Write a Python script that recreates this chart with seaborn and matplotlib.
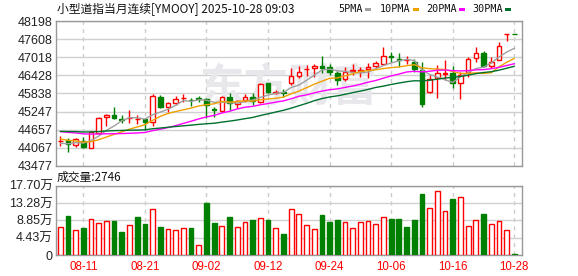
import numpy as np
import pandas as pd
import matplotlib
matplotlib.use("Agg")
import matplotlib.pyplot as plt
import seaborn as sns
from matplotlib.patches import Rectangle

# ---------------- data ----------------
open_ = [44285, 44317, 44153, 44295, 44066, 44535, 45058, 45134, 45003, 45025,
         44992, 45003, 44916, 45734, 45407, 45538, 45679, 45636, 45690, 45647,
         45330, 45265, 45723, 45483, 45614, 45712, 45549, 46170, 45865, 45876,
         46170, 46421, 46628, 46661, 46737, 46704, 46508, 46301, 46573, 46573,
         46639, 46748, 46813, 47053, 46966, 46922, 46879, 46606, 45876, 46334,
         46486, 46519, 46170, 46552, 46988, 47151, 46748, 46933, 47773, 47780]
close = [44300, 44175, 44349, 44098, 44567, 45025, 45134, 45047, 44981, 45047,
         45014, 44916, 45756, 45407, 45516, 45658, 45701, 45614, 45668, 45461,
         45309, 45712, 45516, 45592, 45712, 45592, 46149, 45876, 45887, 45854,
         46399, 46552, 46650, 46737, 46683, 46552, 46279, 46530, 46595, 46595,
         46693, 46824, 47053, 47020, 46922, 46944, 46639, 45494, 46301, 46497,
         46508, 46192, 46443, 46966, 47151, 46737, 46879, 47402, 47784, 47773]
high = [44458, 44393, 44393, 44404, 44611, 45058, 45167, 45385, 45134, 45298,
        45134, 45047, 45832, 45788, 45549, 45756, 45810, 45701, 45767, 45679,
        45396, 45745, 45843, 45614, 45810, 45843, 46181, 46192, 45952, 45985,
        46661, 46748, 46770, 46802, 47064, 46802, 46573, 46693, 46791, 46715,
        46824, 46900, 47348, 47206, 47151, 47075, 46955, 46879, 46443, 46770,
        46933, 46737, 46552, 47020, 47348, 47228, 47042, 47511, 47790, 47784]
low = [44131, 43913, 44098, 44066, 44055, 44513, 44785, 45003, 44862, 44862,
       44840, 44633, 44774, 45374, 45222, 45461, 45549, 45440, 45549, 45047,
       45080, 45243, 45298, 45352, 45549, 45461, 45527, 45854, 45810, 45723,
       46116, 46334, 46421, 46388, 46519, 46443, 46116, 46246, 46443, 46388,
       46355, 46661, 46791, 46879, 46715, 46802, 46552, 45407, 45870, 45701,
       46279, 46006, 45647, 46366, 46857, 46715, 46661, 46925, 47566, 47773]
# closes before the visible window (estimated from where the MA lines start)
prior_close = [44350, 44420, 44480, 44520, 44600, 44650, 44700, 44760, 44800, 44920,
               44650, 44700, 44720, 44730, 44950, 45000, 44980, 44900, 44850, 44828,
               44600, 44550, 44480, 44420, 44395, 44250, 44180, 44160, 44160]
volume = [7.06, 9.96, 6.30, 6.89, 9.10, 8.08, 8.60, 8.60, 5.87, 7.57,
          9.62, 7.91, 11.66, 7.06, 6.55, 6.30, 6.81, 6.81, 2.47, 13.28,
          8.17, 7.32, 9.62, 7.06, 8.34, 8.85, 9.36, 8.85, 6.81, 5.36,
          11.66, 10.47, 7.57, 6.55, 10.21, 8.42, 8.94, 8.34, 6.81, 8.34,
          8.60, 7.83, 9.62, 9.19, 9.19, 7.15, 8.94, 15.57, 11.91, 16.25,
          11.15, 14.30, 14.72, 7.32, 8.85, 10.47, 7.83, 8.60, 6.30, 0.2746]
vol_dir = list("UDUDUUUDDUDDUDUUUDUDDUDUUDUDUDUUUUDDDUUUUUUDDDDDUUUDUUUDUUUD")
tick_pos = [3, 11, 19, 27, 35, 43, 51, 59]
tick_lbl = ["08-11", "08-21", "09-02", "09-12", "09-24", "10-06", "10-16", "10-28"]
price_ticks = [43477, 44067, 44657, 45247, 45838, 46428, 47018, 47608, 48198]
vol_ticks = [0, 4.43, 8.85, 13.28, 17.70]
vol_tick_lbl = ["0", "4.43万", "8.85万", "13.28万", "17.70万"]
ma_windows = [5, 10, 20, 30]
ma_names = ["5PMA", "10PMA", "20PMA", "30PMA"]
ma_colors = ["#a0a0a0", "#f0a000", "#ff00ff", "#00702e"]

RED = "#ff0000"
GREEN = "#008000"

# ---------------- style ----------------
sns.set_theme(style="white")
plt.rcParams["font.family"] = ["Liberation Sans", "Noto Sans CJK SC", "DejaVu Sans"]
plt.rcParams["axes.unicode_minus"] = False

W, H = 578, 276
fig = plt.figure(figsize=(W / 100, H / 100), dpi=100)
fig.patch.set_facecolor("white")
ax = fig.add_axes([56 / W, 1 - 165.7 / H, 466 / W, 144.4 / H])
axv = fig.add_axes([56 / W, 1 - 255 / H, 466 / W, 69.3 / H])

o = np.array(open_, float)
c = np.array(close, float)
h = np.array(high, float)
l = np.array(low, float)
n = len(c)
x = np.arange(n)
up = c >= o

# moving averages
full = pd.Series(prior_close + close, dtype=float)
for wnd, col in zip(ma_windows, ma_colors):
    ma = full.rolling(wnd).mean().to_numpy()[-n:]
    sns.lineplot(x=x, y=ma, ax=ax, color=col, lw=1.0, zorder=4)

# candles
cols = np.where(up, RED, GREEN)
ax.vlines(x, l, h, colors=cols, lw=1.0, zorder=2)
bh = np.abs(c - o)
mid = (c + o) / 2
bh_draw = np.maximum(bh, 14)
ax.bar(x, bh_draw, bottom=mid - bh_draw / 2, width=0.6,
       color=np.where(up, "white", GREEN), edgecolor=cols, lw=1.0, zorder=3)

# watermark
ax.text(288 / W, 1 - 88 / H, "东方财富", transform=fig.transFigure, ha="center", va="center",
        fontsize=32, color="#e8e8ec", fontweight="bold", family=["Noto Sans CJK SC"], zorder=0.8)

# volume
dfv = pd.DataFrame({"x": x, "vol": volume, "dir": vol_dir})
sns.barplot(data=dfv, x="x", y="vol", hue="dir", native_scale=True, dodge=False,
            palette={"U": "white", "D": GREEN}, width=0.62, errorbar=None,
            legend=False, ax=axv, zorder=3)
for p in axv.patches:
    idx = int(round(p.get_x() + p.get_width() / 2))
    if 0 <= idx < n:
        if vol_dir[idx] == "U":
            p.set_facecolor("white")
            p.set_edgecolor(RED)
        else:
            p.set_facecolor(GREEN)
            p.set_edgecolor(GREEN)
        p.set_linewidth(1.0)

# axes styling
for a in (ax, axv):
    a.set_xlim(-0.55, 60.0)
    a.set_facecolor("white")
    for s in a.spines.values():
        s.set_visible(True)
        s.set_color("#999999")
        s.set_linewidth(1.0)
    a.set_axisbelow(True)
    for tp in tick_pos:
        a.axvline(tp, color="#cccccc", lw=1.0, ls=(0, (3, 3)), zorder=0.5)
    a.set_xlabel("")
    a.set_ylabel("")

ax.set_ylim(price_ticks[0], price_ticks[-1])
ax.set_yticks(price_ticks)
ax.set_yticklabels([str(t) for t in price_ticks])
ax.yaxis.grid(True, color="#d0d0d0", lw=1.0)
ax.xaxis.grid(False)
ax.set_xticks([])
ax.tick_params(axis="y", length=0, pad=2.5, labelsize=9, labelcolor="#222222")

axv.set_ylim(0, 17.70)
axv.set_yticks(vol_ticks)
axv.set_yticklabels(vol_tick_lbl)
axv.yaxis.grid(True, color="#d0d0d0", lw=1.0)
axv.xaxis.grid(False)
axv.set_xticks(tick_pos)
axv.set_xticklabels(tick_lbl)
axv.tick_params(axis="y", length=0, pad=2.5, labelsize=9, labelcolor="#222222")
axv.tick_params(axis="x", length=0, pad=4, labelsize=8.3, labelcolor=RED)
axv.set_xlim(-0.55, 60.0)

# titles
fig.text(57 / W, 1 - 10 / H, "小型道指当月连续[YMOOY] 2025-10-28 09:03",
         family=["Noto Sans CJK SC", "DejaVu Sans"], fontsize=8.5, color="#111111",
         ha="left", va="center")
fig.text(57 / W, 1 - 177 / H, "成交量:2746",
         family=["Noto Sans CJK SC", "DejaVu Sans"], fontsize=8.5, color="#111111",
         ha="left", va="center")

# legend
leg_text_x = [338, 380, 426, 472]
leg_mark_x = [365, 413, 459, 505]
for name, col, tx, mx in zip(ma_names, ma_colors, leg_text_x, leg_mark_x):
    fig.text(tx / W, 1 - 9.5 / H, name, family=["DejaVu Sans Mono"], fontsize=7.3,
             color="#111111", ha="left", va="center")
    fig.add_artist(Rectangle((mx / W, 1 - 10.5 / H), 5.5 / W, 2.5 / H,
                             transform=fig.transFigure, color=col, lw=0))

fig.savefig("out.png", dpi=100, facecolor="white")
